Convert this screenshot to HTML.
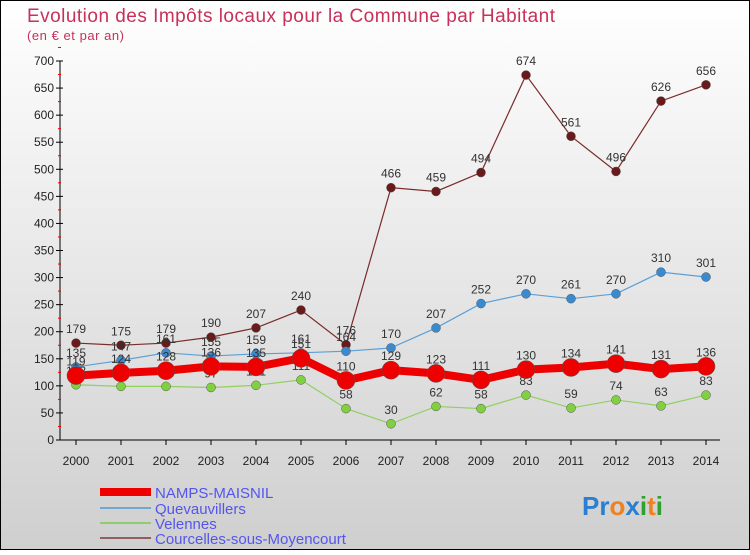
<!DOCTYPE html>
<html><head><meta charset="utf-8"><style>
body{margin:0;width:750px;height:550px;overflow:hidden;font-family:"Liberation Sans",sans-serif}
</style></head><body>
<svg width="750" height="550" xmlns="http://www.w3.org/2000/svg">
<defs><linearGradient id="bg" x1="0" y1="0" x2="0" y2="1"><stop offset="0" stop-color="#ffffff"/><stop offset="1" stop-color="#cfcfcf"/></linearGradient></defs>
<rect x="0.5" y="0.5" width="749" height="549" fill="url(#bg)" stroke="#000"/>
<text x="27" y="22" font-size="19" textLength="528" fill="#c8305a">Evolution des Impôts locaux pour la Commune par Habitant</text>
<text x="27" y="40" font-size="13" textLength="97" fill="#c8305a">(en € et par an)</text>
<g id="axes"></g><g id="series"></g>
<g font-size="15" fill="#5555ee">
<rect x="100" y="488" width="51" height="8" fill="#ee0000"/>
<text x="155" y="498">NAMPS-MAISNIL</text>
<rect x="100" y="507" width="51" height="2" fill="#6fa8d0"/>
<text x="155" y="514">Quevauvillers</text>
<rect x="100" y="522" width="51" height="2" fill="#90cc70"/>
<text x="155" y="529">Velennes</text>
<rect x="100" y="537" width="51" height="2" fill="#906060"/>
<text x="155" y="544">Courcelles-sous-Moyencourt</text>
</g>
<text x="582" y="515" font-size="26" font-weight="bold"><tspan fill="#2a7fd0">Pr</tspan><tspan fill="#f08020">o</tspan><tspan fill="#2a7fd0">x</tspan><tspan fill="#30a030">i</tspan><tspan fill="#f08020">t</tspan><tspan fill="#30a030">i</tspan></text>
</svg>
<script>
const years=[2000,2001,2002,2003,2004,2005,2006,2007,2008,2009,2010,2011,2012,2013,2014];
const namps=[119,124,128,136,135,151,110,129,123,111,130,134,141,131,136];
const quev=[135,147,161,155,159,161,164,170,207,252,270,261,270,310,301];
const vel=[102,99,99,97,101,111,58,30,62,58,83,59,74,63,83];
const cour=[179,175,179,190,207,240,176,466,459,494,674,561,496,626,656];
const yTicks=[0,50,100,150,200,250,300,350,400,450,500,550,600,650,700];
const NS="http://www.w3.org/2000/svg";
const X=i=>76+i*45, Y=v=>440-v*379/700;
function mk(t,a,p){const e=document.createElementNS(NS,t);for(const k in a)e.setAttribute(k,a[k]);p.appendChild(e);return e;}
const ax=document.getElementById('axes'), sr=document.getElementById('series');
let l=mk('line',{x1:60,y1:61,x2:60,y2:440,stroke:'#000'},ax);

l=mk('line',{x1:60,y1:440,x2:720,y2:440,stroke:'#000'},ax);

yTicks.forEach(v=>{mk('line',{x1:56,y1:Y(v),x2:63,y2:Y(v),stroke:'#000'},ax);
 mk('line',{x1:58,y1:Y(v+25),x2:61,y2:Y(v+25),stroke:'#e00'},ax);
 const t=mk('text',{x:54,y:Y(v)+4,'font-size':12,'text-anchor':'end',fill:'#222'},ax);t.textContent=v;
 });
years.forEach((y,i)=>{mk('line',{x1:X(i),y1:440,x2:X(i),y2:445,stroke:'#000'},ax);
 const t=mk('text',{x:X(i),y:465,'font-size':12,'text-anchor':'middle',fill:'#222'},ax);t.textContent=y;
 });
function series(d,color,dot,w,r,name){
 const g=mk('g',{},sr);
 mk('polyline',{points:d.map((v,i)=>X(i)+','+Y(v)).join(' '),fill:'none',stroke:color,'stroke-width':w},g);
 d.forEach((v,i)=>{const c=mk('circle',{cx:X(i),cy:Y(v),r:r,fill:dot,stroke:'#555','stroke-width':0.5},g);
  
  const t=mk('text',{x:X(i),y:Y(v)-10,'font-size':12,'text-anchor':'middle',fill:'#333'},g);t.textContent=v;
  });
}
series(cour,'#7a2b2b','#6a1a1a',1.2,4.5,'courcelles');
series(quev,'#5aa0d8','#3a8ad0',1.2,4.5,'quevauvillers');
series(vel,'#90d060','#80d040',1.2,4.5,'velennes');
series(namps,'#ee0000','#ee0000',8,9,'namps');
</script>
</body></html>
